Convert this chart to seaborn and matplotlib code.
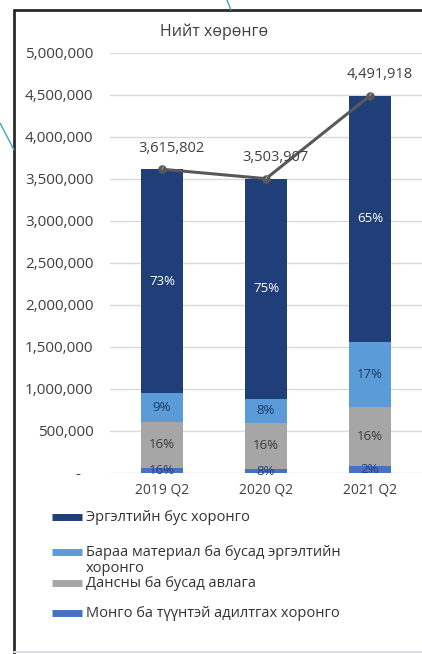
import numpy as np
import pandas as pd
import seaborn as sns
import matplotlib.pyplot as plt
from matplotlib.lines import Line2D
from matplotlib.ticker import FuncFormatter, MultipleLocator

# data
periods = ["2019 Q2", "2020 Q2", "2021 Q2"]
totals = [3615802, 3503907, 4491918]
cash = [63000, 45000, 87000]
receivables = [547000, 555000, 693000]
inventory = [340000, 277000, 783000]
noncurrent = [2665802, 2626907, 2928918]

cash_pct = ["16%", "8%", "2%"]
recv_pct = ["16%", "16%", "16%"]
inv_pct = ["9%", "8%", "17%"]
noncur_pct = ["73%", "75%", "65%"]

names = ["Эргэлтийн бус хоронго",
         "Бараа материал ба бусад эргэлтийн\nхоронго",
         "Дансны ба бусад авлага",
         "Монго ба түүнтэй адилтгах хоронго"]
colors = ["#203E78", "#5A9BD8", "#A6A6A6", "#4472C4"]

df = pd.DataFrame({"period": periods, "cash": cash, "recv": receivables,
                   "inv": inventory, "noncur": noncurrent, "total": totals})
df["c1"] = df["cash"]
df["c2"] = df["c1"] + df["recv"]
df["c3"] = df["c2"] + df["inv"]
df["c4"] = df["c3"] + df["noncur"]

sns.set_theme(style="white")
plt.rcParams["font.family"] = ["Open Sans", "DejaVu Sans"]

fig = plt.figure(figsize=(4.22, 6.54), dpi=100)
ax = fig.add_axes([0.2607, 0.2768, 0.7393, 0.6422])

# stacked bars: draw cumulative heights from the top layer down
for col, c in zip(["c4", "c3", "c2", "c1"], colors):
    sns.barplot(data=df, x="period", y=col, color=c, saturation=1,
                width=0.4, linewidth=0, ax=ax)

sns.pointplot(data=df, x="period", y="total", color="#595959", errorbar=None,
              markersize=4.5, linewidth=2.2, ax=ax)

# segment labels
seg = [("cash", "c1", cash_pct, "#2B3F66"),
       ("recv", "c2", recv_pct, "#3A3A3A"),
       ("inv", "c3", inv_pct, "#1F3864"),
       ("noncur", "c4", noncur_pct, "white")]
for val, top, labs, tc in seg:
    for i in range(len(df)):
        mid = df[top][i] - df[val][i] / 2
        ax.text(i, mid, labs[i], ha="center", va="center", fontsize=9.5,
                color=tc)

for i, t in enumerate(totals):
    ax.annotate(f"{t:,}", xy=(i, t), xytext=(7, 15), textcoords="offset points",
                ha="center", va="center", fontsize=10.5, color="#404040",
                arrowprops=dict(arrowstyle="-", color="#A0A0A0", lw=0.8,
                                shrinkA=6, shrinkB=2))

ax.set_ylim(0, 5000000)
ax.set_xlim(-0.5, 2.5)
ax.yaxis.set_major_locator(MultipleLocator(500000))
ax.yaxis.set_major_formatter(
    FuncFormatter(lambda v, p: "-\u00a0\u00a0\u00a0" if v == 0 else f"{v:,.0f}"))
ax.yaxis.grid(True, color="#D9D9D9", lw=1)
ax.set_axisbelow(True)
for s in ax.spines.values():
    s.set_visible(False)
ax.tick_params(axis="both", length=0, colors="#404040")
ax.tick_params(axis="y", pad=12, labelsize=11)
ax.tick_params(axis="x", pad=7, labelsize=10)
ax.set_xlabel("")
ax.set_ylabel("")

fig.text(0.507, 0.951, "Нийт хөрөнгө", ha="center", va="center",
         fontsize=11.5, color="#404040")

# legend, one row per series
leg_y = [517, 552, 583, 613]
for name, c, py in zip(names, colors, leg_y):
    fy = 1 - py / 654
    fig.add_artist(Line2D([0.123, 0.194], [fy, fy], color=c, lw=5,
                          solid_capstyle="butt"))
    fig.text(0.204, fy + 0.0105, name, ha="left", va="top", fontsize=10.5,
             color="#333333", linespacing=1.05)

# frame and decorative lines
fig.add_artist(Line2D([0.033, 0.033], [0.985, 0.0], color="#2A2A2A", lw=2))
fig.add_artist(Line2D([0.033, 1.0], [0.985, 0.985], color="#2A2A2A", lw=2))
fig.add_artist(Line2D([0.033, 1.0], [0.003, 0.003], color="#D8DEEA", lw=1.5))
fig.add_artist(Line2D([0.0, 0.033], [0.812, 0.771], color="#3AA8C2", lw=1))
fig.add_artist(Line2D([0.538, 0.547], [1.0, 0.985], color="#3AA8C2", lw=1))

fig.savefig("out.png", dpi=100)
